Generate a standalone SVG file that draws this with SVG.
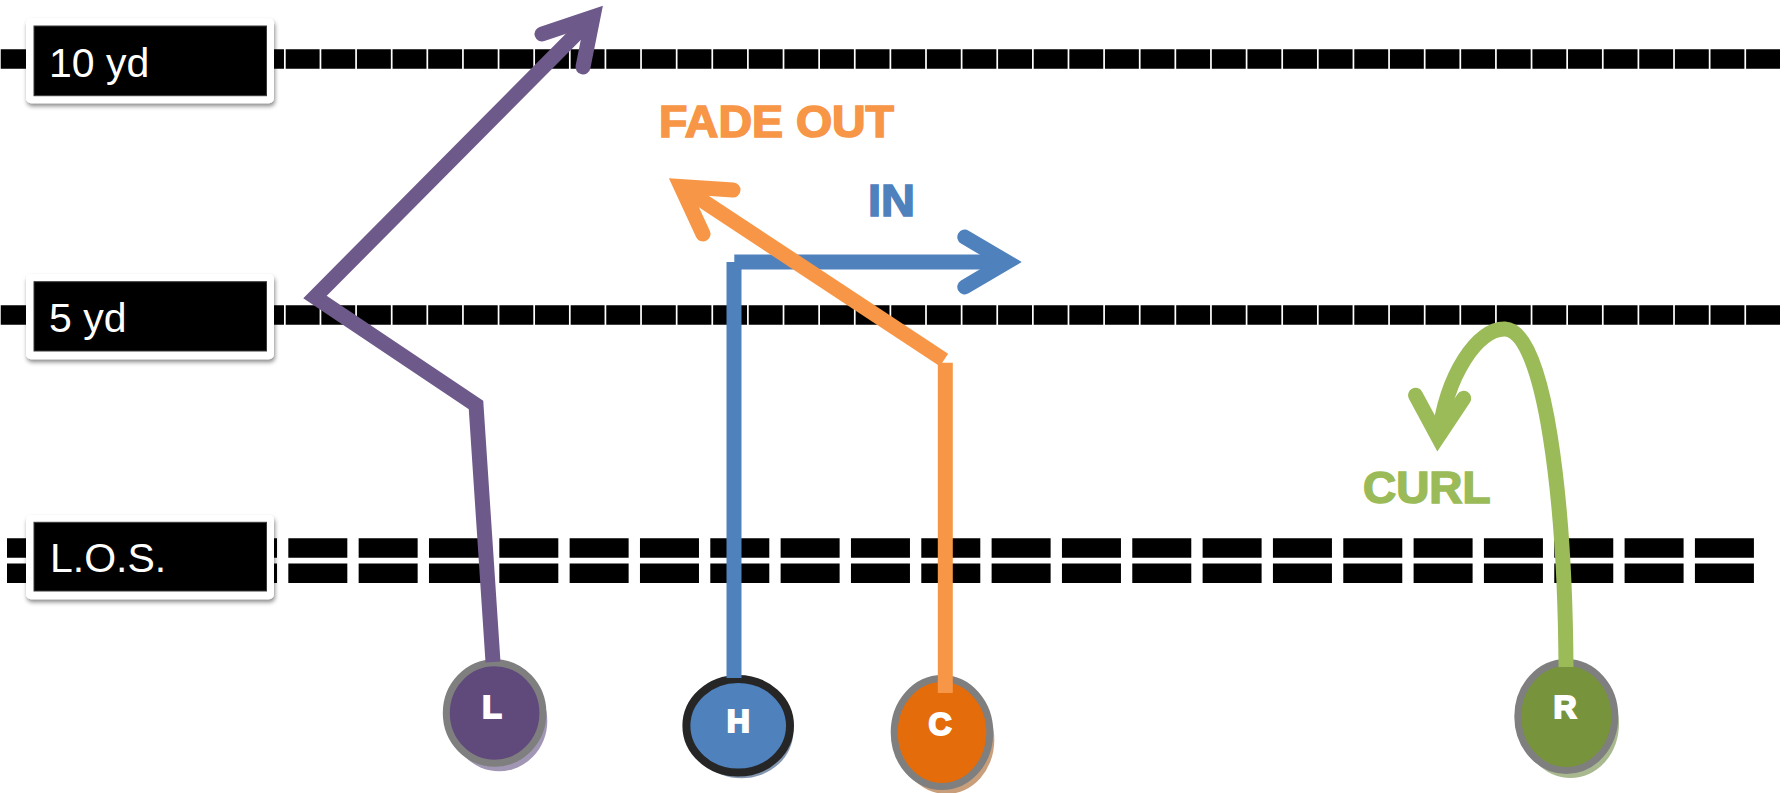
<svg xmlns="http://www.w3.org/2000/svg" width="1787" height="793" viewBox="0 0 1787 793">
<defs>
<filter id="sh" x="-10%" y="-20%" width="120%" height="150%">
<feDropShadow dx="1" dy="3" stdDeviation="2" flood-color="#000" flood-opacity="0.45"/>
</filter>
<style>
.yd{stroke:#000;stroke-width:19.5;stroke-dasharray:33.9 1.72;fill:none}
.los{stroke:#000;stroke-width:19.5;stroke-dasharray:59 11.33;fill:none}
.box{fill:#fff;filter:url(#sh)}
.inner{fill:#000;stroke:#3a3a3a;stroke-width:1}
.lbl{font-family:"Liberation Sans",Arial,sans-serif;font-size:41px;fill:#fff}
.rt{fill:none;stroke-width:15;stroke-linecap:butt;stroke-linejoin:miter;stroke-miterlimit:6}
.ah{fill:none;stroke-width:15;stroke-linecap:round;stroke-linejoin:miter;stroke-miterlimit:6}
.cap{font-family:"Liberation Sans",Arial,sans-serif;font-weight:bold;font-size:44px;stroke-width:1.6}
.nl{font-family:"Liberation Sans",Arial,sans-serif;font-weight:bold;font-size:32px;fill:#fff;stroke:#fff;stroke-width:2;text-anchor:middle}
.ring{stroke:#7f7f7f;stroke-width:7}
</style>
</defs>
<rect width="1787" height="793" fill="#fff"/>
<g id="yardlines">
<line class="yd" x1="0.74" y1="59" x2="1780" y2="59"/>
<line class="yd" x1="0.74" y1="315" x2="1780" y2="315"/>
<line class="los" x1="7" y1="548" x2="1755" y2="548"/>
<line class="los" x1="7" y1="573.3" x2="1755" y2="573.3"/>
</g>
<g id="label-10yd">
<rect class="box" x="26" y="18.3" width="248" height="85" rx="5"/>
<rect class="inner" x="34" y="26" width="232.5" height="69.7"/>
<text class="lbl" x="49" y="76.6">10 yd</text>
</g>
<g id="label-5yd">
<rect class="box" x="26" y="274" width="248" height="85.3" rx="5"/>
<rect class="inner" x="34" y="281.7" width="232.5" height="69.3"/>
<text class="lbl" x="49" y="332.3">5 yd</text>
</g>
<g id="label-los">
<rect class="box" x="26" y="515" width="248" height="84.3" rx="5"/>
<rect class="inner" x="34" y="522.3" width="232.5" height="68.7"/>
<text class="lbl" x="50" y="572.3">L.O.S.</text>
</g>
<g id="node-L">
<ellipse cx="499" cy="721" rx="48.3" ry="50.2" fill="#a197b5"/>
<ellipse class="ring" cx="494.6" cy="713" rx="48.3" ry="50.2" fill="#604a7b"/>
<text class="nl" x="492" y="718.3">L</text>
</g>
<g id="node-H">
<ellipse cx="741.5" cy="731.5" rx="51.8" ry="46.8" fill="#8497b0"/>
<ellipse cx="738.2" cy="725.8" rx="51.8" ry="46.8" fill="#4f81bd" stroke="#262626" stroke-width="8"/>
<text class="nl" x="738.3" y="732.3">H</text>
</g>
<g id="node-C">
<ellipse cx="946.5" cy="740" rx="47.8" ry="54" fill="#c99e7b"/>
<ellipse class="ring" cx="942" cy="732.5" rx="47.8" ry="54" fill="#e46c0a"/>
<text class="nl" x="940" y="734.5">C</text>
</g>
<g id="node-R">
<ellipse cx="1570.5" cy="724" rx="48.5" ry="54" fill="#a9b98f"/>
<ellipse class="ring" cx="1566.3" cy="716.5" rx="48.5" ry="54" fill="#77933c"/>
<text class="nl" x="1565" y="718.3">R</text>
</g>
<g id="connectors">
<g stroke="#4f81bd">
<line class="rt" x1="734" y1="678" x2="734" y2="262"/>
<line class="rt" x1="734.3" y1="262" x2="1007" y2="262"/>
<polyline class="ah" points="964.8,237.1 1007,262 964.8,286.9"/>
</g>
<g stroke="#6e5a8a">
<polyline class="rt" stroke-width="14" points="493,662 476,405 315,297 593,17"/>
<polyline class="ah" stroke-width="14" points="542,34 593,17 583,67"/>
</g>
<g stroke="#f79646">
<line class="rt" x1="945.3" y1="693" x2="945.3" y2="362.7"/>
<line class="rt" x1="944" y1="360" x2="681" y2="186.5"/>
<polyline class="ah" points="733,190 681,186.5 703,234"/>
</g>
<g stroke="#9bbb59">
<path class="rt" stroke-width="16" d="M1566 667 C1565 500 1545 330 1505 329 C1478 328 1446 375 1439 437"/>
<polyline class="ah" stroke-width="16" points="1415.5,395.3 1438,437 1463.7,398.3"/>
</g>
</g>
<g id="route-labels">
<text class="cap" x="659" y="136.7" fill="#f79646" stroke="#f79646" textLength="235" lengthAdjust="spacingAndGlyphs">FADE OUT</text>
<text class="cap" x="868" y="216" fill="#4f81bd" stroke="#4f81bd" textLength="47" lengthAdjust="spacingAndGlyphs">IN</text>
<text class="cap" x="1363" y="503.3" fill="#9bbb59" stroke="#9bbb59" textLength="127.5" lengthAdjust="spacingAndGlyphs">CURL</text>
</g>
</svg>
